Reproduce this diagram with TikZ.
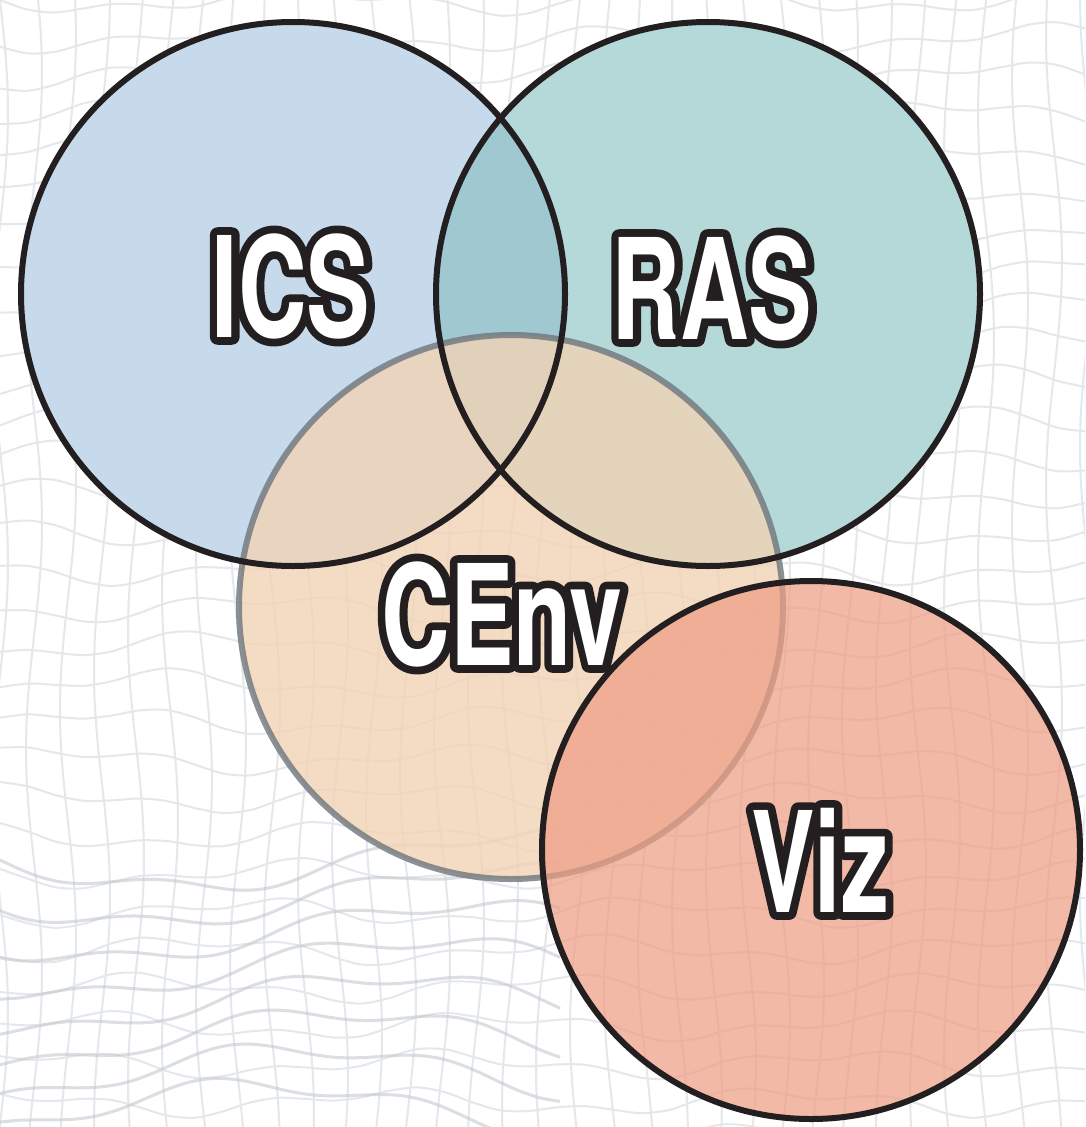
\documentclass[tikz,border=0pt]{standalone}
\usepackage{fontspec}
\setmainfont{TeX Gyre Heros}
\newfontfamily\lblfont{TeX Gyre Heros}[FakeStretch=0.68,UprightFont=*-Bold]
\newfontfamily\lbloutline{TeX Gyre Heros}[FakeStretch=0.68,UprightFont=*-Bold,FakeBold=11]
\newcommand{\outlined}[1]{\rlap{{\lbloutline\color{ringblack}#1}}{\lblfont\color{white}#1}}
\definecolor{icsfill}{HTML}{C6DAEC}
\definecolor{rasfill}{HTML}{B5D8D8}
\definecolor{bothfill}{HTML}{9FC8D0}
\definecolor{cenvfill}{RGB}{242,211,181}
\definecolor{vizfill}{RGB}{238,158,132}
\definecolor{ringblack}{HTML}{231F20}
\definecolor{cenvring}{HTML}{6E767C}
\definecolor{meshc}{HTML}{E4E7EB}
\definecolor{meshdark}{HTML}{C3C9D0}
\begin{document}
\begin{tikzpicture}[x=1pt,y=-1pt,
  mesh/.style={draw=meshc,line width=2pt},
  meshd/.style={draw=meshdark,line width=3pt,opacity=0.6},
  disc/.style={circle,minimum size=544pt,inner sep=0pt},
  ring/.style={draw=ringblack,line width=6pt},
  lbl/.style={inner sep=0pt,line join=round,font=\fontsize{140}{140}\selectfont}]
\useasboundingbox (0,0) rectangle (1085,1127);
\fill[white] (0,0) rectangle (1085,1127);
\begin{scope}
  \clip (0,0) rectangle (1085,1127);
  \foreach \j in {0,...,30}
    \draw[mesh] plot[domain=0:1085,samples=40,smooth] (\x,{\j*38 + 10*sin(0.9*\x+47*\j) + 6*sin(2.3*\x+13*\j)});
  \foreach \i in {0,...,32}
    \draw[mesh] plot[domain=0:1127,samples=40,smooth] ({\i*34 + 8*sin(0.8*\x+31*\i)},\x);
  \foreach \k in {0,...,7}
    \draw[meshd] plot[domain=0:560,samples=30,smooth] (\x,{860+\k*36 + 28*sin(0.5*\x+20*\k) + 8*sin(1.7*\x+40*\k)});
\end{scope}
% discs
\node[disc,fill=icsfill] (ics) at (293,294) {};
\node[disc,fill=rasfill] (ras) at (708,294) {};
\begin{scope}
  \clip (ics) circle[radius=272pt];
  \fill[bothfill] (ras) circle[radius=272pt];
\end{scope}
\node[disc,fill=cenvfill,fill opacity=0.8,draw=cenvring,draw opacity=0.8,line width=6pt] (cenv) at (511,607) {};
\draw[ring] (ics) circle[radius=272pt];
\draw[ring] (ras) circle[radius=272pt];
\node[disc,minimum size=538pt,fill=vizfill,fill opacity=0.72] (viz) at (811,850) {};
\draw[ring] (viz) circle[radius=269pt];
% labels
\node[lbl] (icst) at (291,286) {\outlined{ICS}};
\node[lbl] (rast) at (712,288) {\outlined{RAS}};
\node[lbl] (cenvt) at (502,614) {\outlined{CEnv}};
\node[lbl] (vizt) at (820,860) {\outlined{Viz}};
\end{tikzpicture}
\end{document}
